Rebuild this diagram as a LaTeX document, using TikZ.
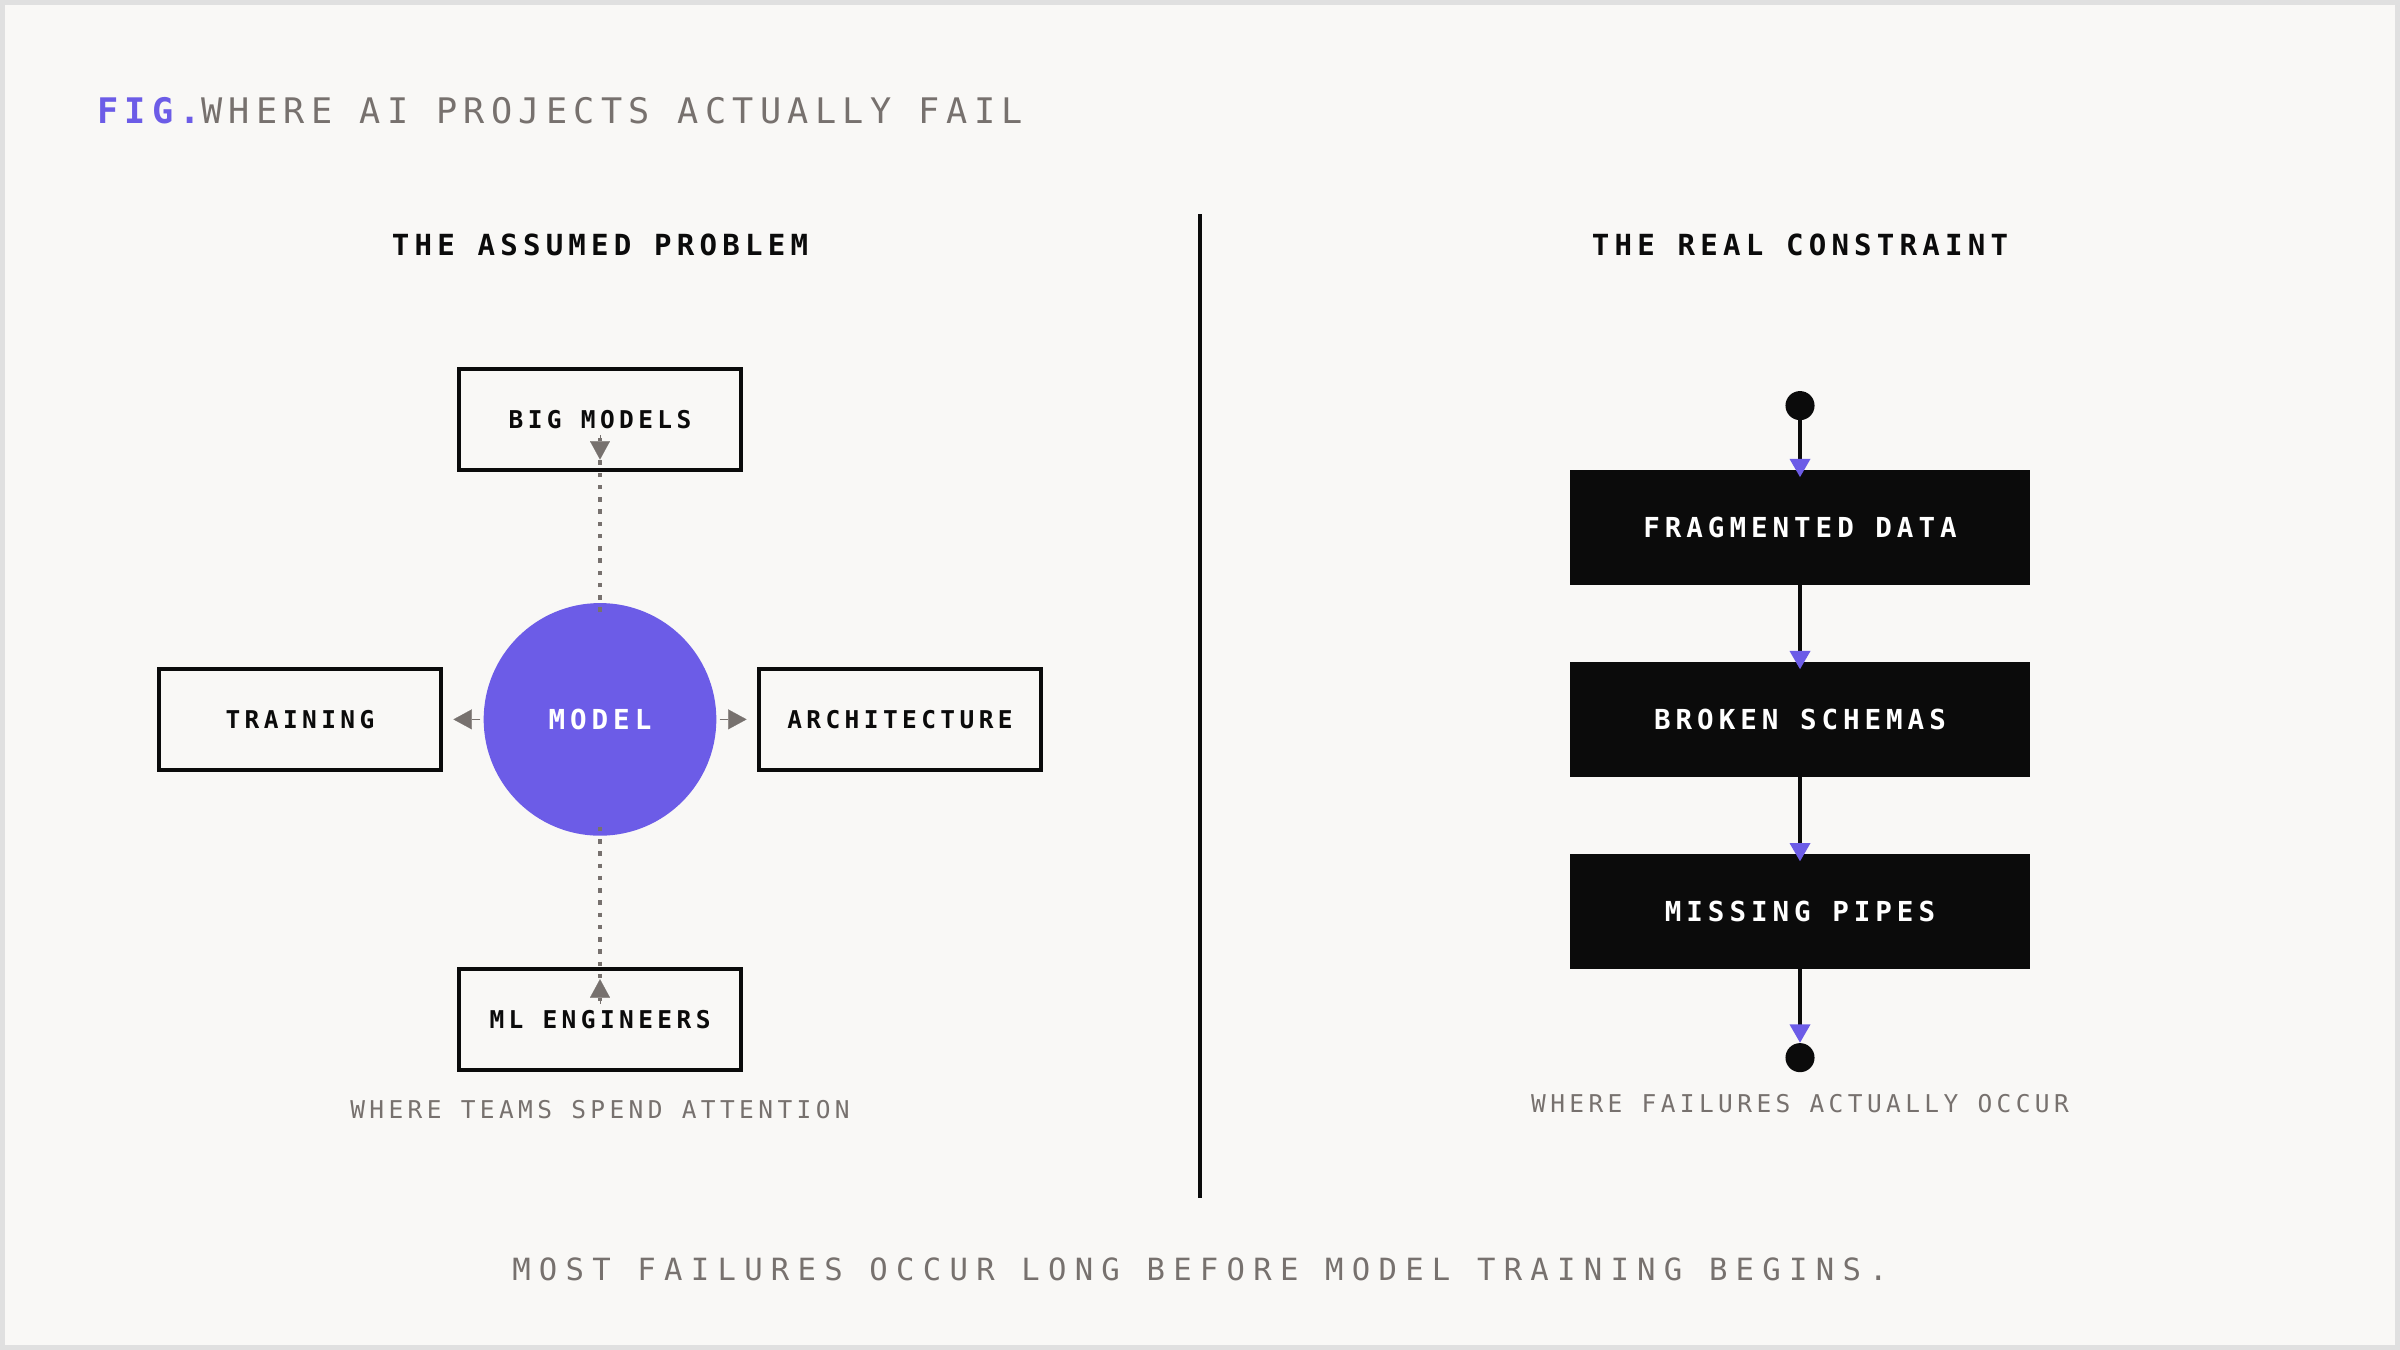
\documentclass[tikz,border=0pt]{standalone}
\usepackage{fontspec}
\usetikzlibrary{arrows.meta}
\newfontfamily\monoA[LetterSpace=18]{DejaVu Sans Mono}
\newfontfamily\monoB[LetterSpace=27]{DejaVu Sans Mono}
\definecolor{bg}{HTML}{F9F8F6}
\definecolor{purp}{HTML}{6C5CE7}
\definecolor{gr}{HTML}{77716E}
\definecolor{blk}{HTML}{0B0B0B}
\tikzset{
 wbox/.style={draw=blk,line width=2.5pt,fill=bg,minimum width=184pt,minimum height=66pt,font=\monoA\fontsize{16}{16}\selectfont\bfseries,text=blk},
 bbox/.style={fill=blk,minimum width=300pt,minimum height=75pt,font=\monoA\fontsize{18}{18}\selectfont\bfseries,text=white},
 hdr/.style={font=\monoA\fontsize{19}{19}\selectfont\bfseries,text=blk},
 captxt/.style={font=\monoA\fontsize{16}{16}\selectfont,text=gr},
 dotline/.style={gr,line width=2pt,dash pattern=on 3pt off 5pt},
 gtip/.style={-{Triangle[length=12pt,width=13pt,fill=gr,color=gr]}},
 ptip/.style={blk,line width=2.5pt,-{Triangle[length=12pt,width=13pt,color=purp,fill=purp]}},
 enddot/.style={circle,fill=blk,minimum size=19pt,inner sep=0pt}
}
\begin{document}
\begin{tikzpicture}[x=1pt,y=-1pt]
\useasboundingbox (0,0) rectangle (1568,882);
\fill[bg,draw=black!12,line width=3pt] (1.5,1.5) rectangle (1566.5,880.5);
\node[anchor=west,font=\monoA\fontsize{23}{23}\selectfont] (title) at (60,72) {\textcolor{purp}{\bfseries FIG.}\textcolor{gr}{ WHERE AI PROJECTS ACTUALLY FAIL}};
\node[hdr] (h1) at (392,160) {THE ASSUMED PROBLEM};
\node[hdr] (h2) at (1176,160) {THE REAL CONSTRAINT};
\coordinate (d1) at (784,140); \coordinate (d2) at (784,783);
\draw[blk,line width=3pt] (d1) -- (d2);
% left
\node[circle,fill=purp,minimum size=152pt,inner sep=0pt,text=white,font=\monoA\fontsize{18}{18}\selectfont\bfseries] (m) at (392,470) {MODEL};
\node[wbox] (bm) at (392,274) {BIG MODELS};
\node[wbox] (tr) at (196,470) {TRAINING};
\node[wbox] (ar) at (588,470) {ARCHITECTURE};
\node[wbox] (ml) at (392,666) {ML ENGINEERS};
\draw[dotline] ([yshift=-6pt]m.north) -- ([yshift=22pt]bm.south);
\path[gtip,draw=gr,line width=0.1pt] ([yshift=24pt]bm.south) -- ([yshift=8pt]bm.south);
\draw[dotline] ([yshift=6pt]m.south) -- ([yshift=-22pt]ml.north);
\path[gtip,draw=gr,line width=0.1pt] ([yshift=-24pt]ml.north) -- ([yshift=-8pt]ml.north);
\path[gtip,draw=gr,line width=0.1pt] ([xshift=-2pt]m.west) -- ([xshift=7pt]tr.east);
\path[gtip,draw=gr,line width=0.1pt] ([xshift=2pt]m.east) -- ([xshift=-7pt]ar.west);
\node[captxt] (c1) at (392,725) {WHERE TEAMS SPEND ATTENTION};
% right
\node[enddot] (s) at (1176,265) {};
\node[bbox] (f) at (1176,344.5) {FRAGMENTED DATA};
\node[bbox] (b) at (1176,470) {BROKEN SCHEMAS};
\node[bbox] (p) at (1176,595.5) {MISSING PIPES};
\node[enddot] (e) at (1176,691) {};
\draw[ptip] (s) -- ([yshift=-5pt]f.north);
\draw[ptip] ([yshift=6pt]f.south) -- ([yshift=-5pt]b.north);
\draw[ptip] ([yshift=6pt]b.south) -- ([yshift=-5pt]p.north);
\draw[ptip] ([yshift=6pt]p.south) -- (e.north);
\node[captxt] (c2) at (1176,721) {WHERE FAILURES ACTUALLY OCCUR};
\node[font=\monoB\fontsize{20}{20}\selectfont,text=gr] (bot) at (784,829) {MOST FAILURES OCCUR LONG BEFORE MODEL TRAINING BEGINS.};
\end{tikzpicture}
\end{document}
